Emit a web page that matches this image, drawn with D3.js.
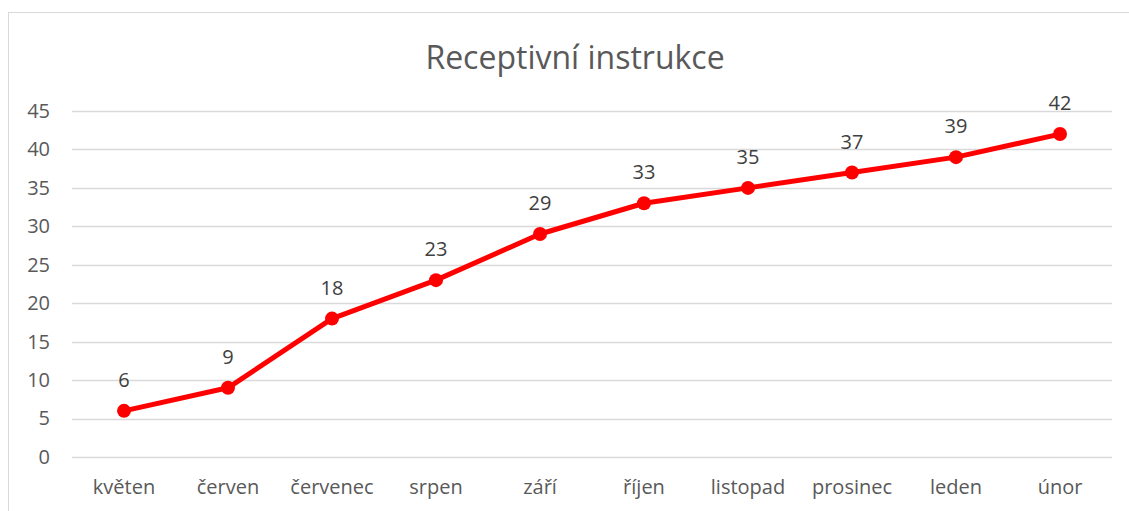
<!DOCTYPE html>
<html>
<head>
<meta charset="utf-8">
<script src="https://cdn.jsdelivr.net/npm/d3@7"></script>
<style>
    body { margin: 0; background: #fff; }
    text { font-family: "Open Sans", "Noto Sans", sans-serif; fill: #595959; }
</style>
</head>
<body>
<div id="chart"></div>
<script>
// data
var months = ["květen", "červen", "červenec", "srpen", "září", "říjen", "listopad", "prosinec", "leden", "únor"];
var values = [6, 9, 18, 23, 29, 33, 35, 37, 39, 42];
var yTicks = [0, 5, 10, 15, 20, 25, 30, 35, 40, 45];
var chartTitle = "Receptivní instrukce";

var W = 1129, H = 511;
var margin = { top: 111, right: 17, bottom: 54, left: 72 };
var width = W - margin.left - margin.right,
    height = H - margin.top - margin.bottom;

var svg = d3.select("#chart").append("svg")
    .attr("width", W)
    .attr("height", H);

// chart frame
svg.append("rect")
    .attr("x", 8.5).attr("y", 12.5)
    .attr("width", W).attr("height", H)
    .attr("fill", "none")
    .attr("stroke", "#d9d9d9")
    .attr("stroke-width", 1);

svg.append("text")
    .attr("x", 575)
    .attr("y", 69)
    .attr("text-anchor", "middle")
    .style("font-size", "32px")
    .text(chartTitle);

var g = svg.append("g")
    .attr("transform", "translate(" + margin.left + "," + margin.top + ")");

// scales
var x = d3.scaleBand()
    .domain(months)
    .range([0, width]);

var y = d3.scaleLinear()
    .domain([0, 45])
    .range([height, 0]);

// gridlines
g.selectAll(".grid")
    .data(yTicks)
    .enter().append("line")
    .attr("class", "grid")
    .attr("x1", 0).attr("x2", width)
    .attr("y1", function(d) { return Math.round(y(d)) + 0.5; })
    .attr("y2", function(d) { return Math.round(y(d)) + 0.5; })
    .attr("stroke", "#d9d9d9")
    .attr("stroke-width", 1.5);

// y axis
var yAxis = d3.axisLeft(y).tickValues(yTicks).tickSize(0).tickPadding(22);
g.append("g").attr("class", "y-axis").call(yAxis)
    .call(function(a) { a.select(".domain").remove(); })
    .selectAll("text")
    .style("font-size", "20px")
    .attr("fill", "#595959");

// x axis
var xAxis = d3.axisBottom(x).tickSize(0).tickPadding(23);
g.append("g").attr("class", "x-axis")
    .attr("transform", "translate(0," + height + ")")
    .call(xAxis)
    .call(function(a) { a.select(".domain").remove(); })
    .selectAll("text")
    .style("font-size", "20px")
    .attr("fill", "#595959");

var cx = function(d, i) { return x(months[i]) + x.bandwidth() / 2; };

// line
var line = d3.line()
    .x(function(d, i) { return cx(d, i); })
    .y(function(d) { return y(d); });

g.append("path")
    .datum(values)
    .attr("d", line)
    .attr("fill", "none")
    .attr("stroke", "#ff0000")
    .attr("stroke-width", 5)
    .attr("stroke-linejoin", "round");

g.selectAll(".dot")
    .data(values)
    .enter().append("circle")
    .attr("class", "dot")
    .attr("cx", cx)
    .attr("cy", function(d) { return y(d); })
    .attr("r", 7)
    .attr("fill", "#ff0000");

// data labels
g.selectAll(".label")
    .data(values)
    .enter().append("text")
    .attr("class", "label")
    .attr("x", cx)
    .attr("y", function(d) { return y(d) - 24; })
    .attr("text-anchor", "middle")
    .style("font-size", "20px")
    .style("fill", "#404040")
    .text(function(d) { return d; });
</script>
</body>
</html>
